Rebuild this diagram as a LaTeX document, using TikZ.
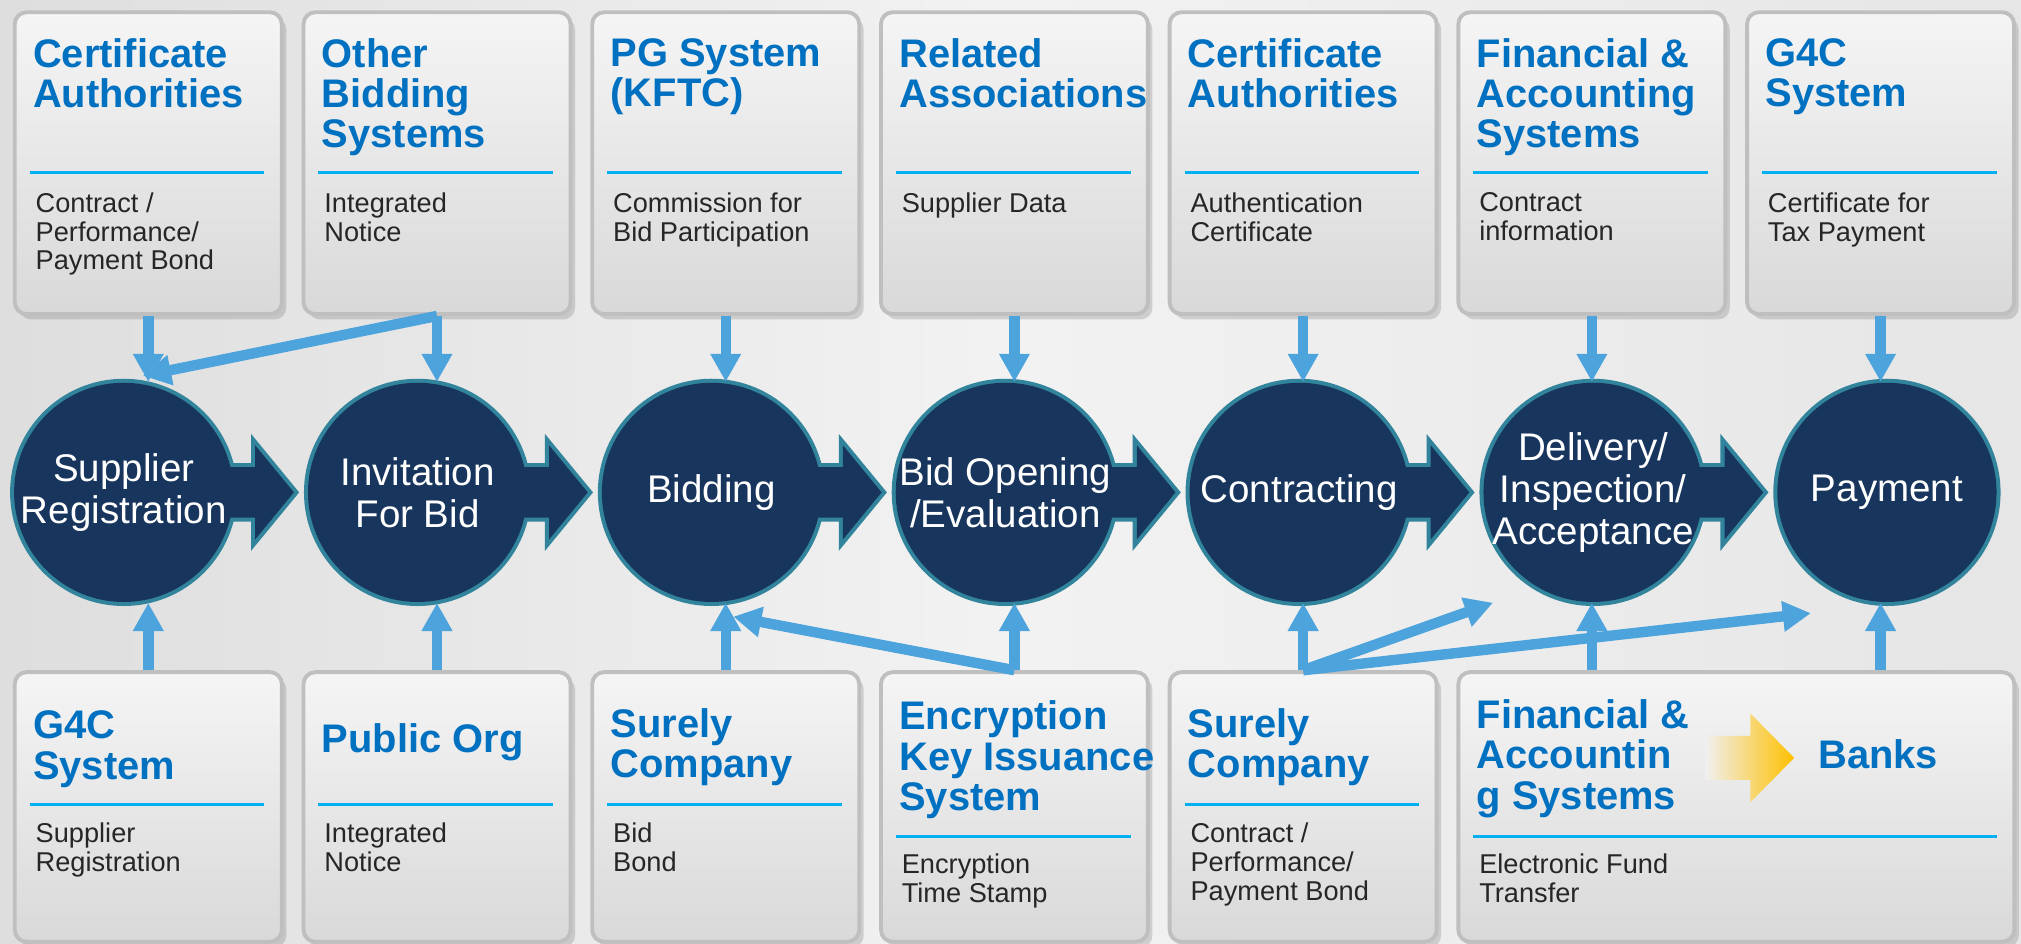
\documentclass[tikz,border=0pt]{standalone}
\usepackage{fontspec}
\setmainfont{Liberation Sans}
\usetikzlibrary{arrows.meta,calc,shadows,positioning}
\pgfdeclarelayer{back}
\pgfdeclarelayer{bg}
\pgfsetlayers{back,bg,main}
\definecolor{navy}{HTML}{18365D}
\definecolor{rimteal}{HTML}{31849B}
\definecolor{titleblue}{HTML}{0070C0}
\definecolor{rulecyan}{HTML}{00B0F0}
\definecolor{linkblue}{HTML}{4DA3DB}
\definecolor{bankgold}{HTML}{FFC000}
\tikzset{
  card/.style={rectangle, rounded corners=2.6pt, draw=black!25, line width=0.85pt,
    top color=black!4, bottom color=black!15, inner sep=0, anchor=north west,
    minimum width=2.07cm, drop shadow={opacity=0.3, shadow xshift=1pt, shadow yshift=-1.2pt}},
  topcard/.style={card, minimum height=2.34cm},
  lowcard/.style={card, minimum height=2.09cm},
  head/.style={anchor=north west, inner sep=0, align=left, text=titleblue,
    font=\fontsize{8.8pt}{8.9pt}\selectfont\bfseries},
  body/.style={anchor=north west, inner sep=0, align=left, text=black!85,
    font=\fontsize{6pt}{6.3pt}\selectfont},
  rule/.style={rulecyan, line width=0.75pt},
  stage/.style={circle, fill=navy, minimum size=1.7cm, inner sep=0},
  stagetext/.style={inner sep=0, text=white, align=center, font=\fontsize{8.5pt}{9.3pt}\selectfont},
  rimline/.style={draw=rimteal, line width=1.8pt},
  link/.style={linkblue, line width=2.3pt},
}
\begin{document}
\begin{tikzpicture}[x=0.01cm, y=-0.01cm, >={Triangle[width=6.4pt,length=6.2pt]}]
    \useasboundingbox (0,0) rectangle (1568,732);
    \begin{pgfonlayer}{back}
        \shade[left color=black!13, right color=black!10, middle color=black!5] (0,0) rectangle (1568,732);
    \end{pgfonlayer}
    % top row
    \node[topcard] (t1) at (10,8) {};
    \node[topcard] (t2) at (234,8) {};
    \node[topcard] (t3) at (458,8) {};
    \node[topcard] (t4) at (682,8) {};
    \node[topcard] (t5) at (906,8) {};
    \node[topcard] (t6) at (1130,8) {};
    \node[topcard] (t7) at (1354,8) {};
    \node[head] (t1h) at ($(t1.north west)+(15,21)$) {Certificate\\Authorities};
    \node[head] (t2h) at ($(t2.north west)+(15,21)$) {Other\\Bidding\\Systems};
    \node[head] (t3h) at ($(t3.north west)+(15,21)$) {PG System\\(KFTC)};
    \node[head] (t4h) at ($(t4.north west)+(15,21)$) {Related\\Associations};
    \node[head] (t5h) at ($(t5.north west)+(15,21)$) {Certificate\\Authorities};
    \node[head] (t6h) at ($(t6.north west)+(15,21)$) {Financial \&\\Accounting\\Systems};
    \node[head] (t7h) at ($(t7.north west)+(15,21)$) {G4C\\System};
    \draw[rule] ($(t1.north west)+(13,126)$) -- ($(t1.north east)+(-15,126)$);
    \draw[rule] ($(t2.north west)+(13,126)$) -- ($(t2.north east)+(-15,126)$);
    \draw[rule] ($(t3.north west)+(13,126)$) -- ($(t3.north east)+(-15,126)$);
    \draw[rule] ($(t4.north west)+(13,126)$) -- ($(t4.north east)+(-15,126)$);
    \draw[rule] ($(t5.north west)+(13,126)$) -- ($(t5.north east)+(-15,126)$);
    \draw[rule] ($(t6.north west)+(13,126)$) -- ($(t6.north east)+(-15,126)$);
    \draw[rule] ($(t7.north west)+(13,126)$) -- ($(t7.north east)+(-15,126)$);
    \node[body] (t1d) at ($(t1.north west)+(17,141)$) {Contract /\\Performance/\\Payment Bond};
    \node[body] (t2d) at ($(t2.north west)+(17,141)$) {Integrated\\Notice};
    \node[body] (t3d) at ($(t3.north west)+(17,141)$) {Commission for\\Bid Participation};
    \node[body] (t4d) at ($(t4.north west)+(17,141)$) {Supplier Data};
    \node[body] (t5d) at ($(t5.north west)+(17,141)$) {Authentication\\Certificate};
    \node[body] (t6d) at ($(t6.north west)+(17,141)$) {Contract\\information};
    \node[body] (t7d) at ($(t7.north west)+(17,141)$) {Certificate for\\Tax Payment};
    % bottom row
    \node[lowcard] (b1) at (10,520) {};
    \node[lowcard] (b2) at (234,520) {};
    \node[lowcard] (b3) at (458,520) {};
    \node[lowcard] (b4) at (682,520) {};
    \node[lowcard] (b5) at (906,520) {};
    \node[lowcard, minimum width=4.31cm] (b6) at (1130,520) {};
    \node[head] (b1h) at ($(b1.north west)+(15,31)$) {G4C\\System};
    \node[head] (b2h) at ($(b2.north west)+(15,41)$) {Public Org};
    \node[head] (b3h) at ($(b3.north west)+(15,29)$) {Surely\\Company};
    \node[head] (b4h) at ($(b4.north west)+(15,23)$) {Encryption\\Key Issuance\\System};
    \node[head] (b5h) at ($(b5.north west)+(15,29)$) {Surely\\Company};
    \node[head] (b6h) at ($(b6.north west)+(15,22)$) {Financial \&\\Accountin\\g Systems};
    \node[head] (banks) at ($(b6.north west)+(280,53)$) {Banks};
    \shade[left color=black!6, right color=bankgold, shift={(b6.north west)}]
        (193,51) -- (228,51) -- (228,33.5) -- (262,68) -- (228,102.5) -- (228,85) -- (193,85) -- cycle;
    \draw[rule] ($(b1.north west)+(13,104)$) -- ($(b1.north east)+(-15,104)$);
    \draw[rule] ($(b2.north west)+(13,104)$) -- ($(b2.north east)+(-15,104)$);
    \draw[rule] ($(b3.north west)+(13,104)$) -- ($(b3.north east)+(-15,104)$);
    \draw[rule] ($(b4.north west)+(13,129)$) -- ($(b4.north east)+(-15,129)$);
    \draw[rule] ($(b5.north west)+(13,104)$) -- ($(b5.north east)+(-15,104)$);
    \draw[rule] ($(b6.north west)+(13,129)$) -- ($(b6.north east)+(-15,129)$);
    \node[body] (b1d) at ($(b1.north west)+(17,118)$) {Supplier\\Registration};
    \node[body] (b2d) at ($(b2.north west)+(17,118)$) {Integrated\\Notice};
    \node[body] (b3d) at ($(b3.north west)+(17,118)$) {Bid\\Bond};
    \node[body] (b4d) at ($(b4.north west)+(17,142)$) {Encryption\\Time Stamp};
    \node[body] (b5d) at ($(b5.north west)+(17,118)$) {Contract /\\Performance/\\Payment Bond};
    \node[body] (b6d) at ($(b6.north west)+(17,142)$) {Electronic Fund\\Transfer};
    % process stages
    \node[stage] (c1) at (96,382) {};
    \node[stage] (c2) at (324,382) {};
    \node[stage] (c3) at (552,382) {};
    \node[stage] (c4) at (780,382) {};
    \node[stage] (c5) at (1008,382) {};
    \node[stage] (c6) at (1236,382) {};
    \node[stage] (c7) at (1464,382) {};
    \node[stagetext] (c1t) at (c1) {Supplier\\Registration};
    \node[stagetext] (c2t) at (c2) {Invitation\\For Bid};
    \node[stagetext] (c3t) at (c3) {Bidding};
    \node[stagetext] (c4t) at (c4) {Bid Opening\\/Evaluation};
    \node[stagetext] (c5t) at (c5) {Contracting};
    \node[stagetext] (c6t) at (c6) {Delivery/\\Inspection/\\Acceptance};
    \node[stagetext] (c7t) at (c7) {Payment};
    \begin{pgfonlayer}{bg}
        \foreach \n in {1,...,7} \draw[rimline] (c\n.center) circle[radius=85];
        \foreach \n in {1,...,6} {
            \draw[rimline, shift={(c\n.center)}] (60,-19.5) -- (102,-19.5) -- (102,-36.5) -- (132,0) -- (102,36.5) -- (102,19.5) -- (60,19.5) -- cycle;
            \fill[navy, shift={(c\n.center)}] (60,-19.5) -- (102,-19.5) -- (102,-36.5) -- (132,0) -- (102,36.5) -- (102,19.5) -- (60,19.5) -- cycle;
        }
    \end{pgfonlayer}
    % links
    \draw[link,->] (t1.south) -- (t1.south |- c1.north);
    \draw[link,->] (t2.south) -- (t2.south |- c2.north);
    \draw[link,->] (t3.south) -- (t3.south |- c3.north);
    \draw[link,->] (t4.south) -- (t4.south |- c4.north);
    \draw[link,->] (t5.south) -- (t5.south |- c5.north);
    \draw[link,->] (t6.south) -- (t6.south |- c6.north);
    \draw[link,->] (t7.south) -- (t7.south |- c7.north);
    \draw[link,->] (t2.south) -- ($(c1.80)+(0,-6)$);
    \draw[link,->] (b1.north) -- (b1.north |- c1.south);
    \draw[link,->] (b2.north) -- (b2.north |- c2.south);
    \draw[link,->] (b3.north) -- (b3.north |- c3.south);
    \draw[link,->] (b4.north) -- (b4.north |- c4.south);
    \draw[link,->] (b5.north) -- (b5.north |- c5.south);
    \draw[link,->] (t6.south |- b6.north) -- (t6.south |- c6.south);
    \draw[link,->] (t7.south |- b6.north) -- (t7.south |- c7.south);
    \draw[link,->] (b4.north) -- ($(c3.-80)+(2,12)$);
    \draw[link,->] (b5.north) -- ($(c6.south west)+(-17,25)$);
    \draw[link,->] (b5.north) -- ($(c7.south)+(-59,8)$);
\end{tikzpicture}
\end{document}
